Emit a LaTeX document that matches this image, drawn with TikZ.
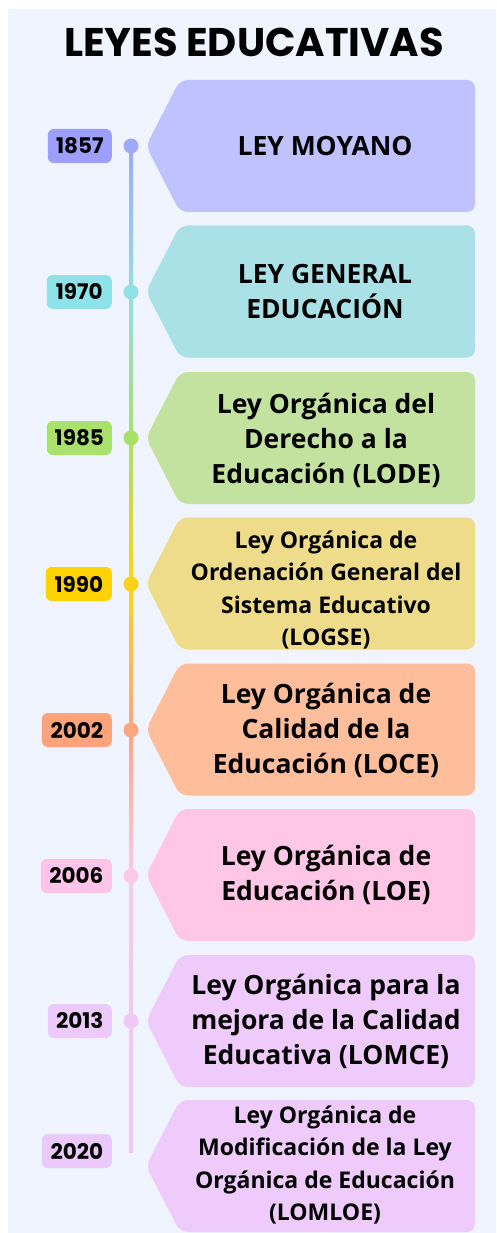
\documentclass[tikz,border=0pt]{standalone}
\usepackage{fontspec}
\setmainfont{Open Sans}
\newfontfamily\titlefont{Poppins}
\newfontfamily\yearfont{Poppins}
\usetikzlibrary{calc}
\definecolor{bg}{HTML}{F0F4FE}
\definecolor{bxa}{HTML}{BFC2FE}
\definecolor{bxb}{HTML}{A9E1E6}
\definecolor{bxc}{HTML}{C4E29F}
\definecolor{bxd}{HTML}{EFDC8A}
\definecolor{bxe}{HTML}{FFBE9B}
\definecolor{bxf}{HTML}{FFC6E6}
\definecolor{bxg}{HTML}{EFCBFC}
\definecolor{bxh}{HTML}{EFCBFC}
\definecolor{yra}{HTML}{9E9EFF}
\definecolor{yrb}{HTML}{8EE3E8}
\definecolor{yrc}{HTML}{A9E26A}
\definecolor{yrd}{HTML}{FFD200}
\definecolor{yre}{HTML}{FFA47A}
\definecolor{yrf}{HTML}{FFC5E8}
\definecolor{yrg}{HTML}{ECCAFB}
\definecolor{yrh}{HTML}{ECC9FB}
\definecolor{dta}{HTML}{A0A8F8}
\definecolor{dtb}{HTML}{90E0E6}
\definecolor{dtc}{HTML}{A8E06A}
\definecolor{dtd}{HTML}{FFD21A}
\definecolor{dte}{HTML}{FFA580}
\definecolor{dtf}{HTML}{FFC8E6}
\definecolor{dtg}{HTML}{EFC8F8}
\newcommand\lawbox[2]{\fill[#2, rounded corners=8pt] (475,#1-66) -- (180,#1-66) -- (146,#1) -- (180,#1+66) -- (475,#1+66) -- cycle;}
\tikzset{
  yearlabel/.style={fill=#1, rounded corners=6pt, anchor=east, minimum height=34pt, inner sep=0pt, font=\yearfont\bfseries\fontsize{21.5}{24}\selectfont, text=black},
  tdot/.style={circle, fill=#1, minimum size=15pt, inner sep=0pt},
  lawtext/.style={align=center, font=\bfseries\fontsize{26.5}{35}\selectfont, text=black},
  lawsmall/.style={align=center, font=\bfseries\fontsize{23}{32.5}\selectfont, text=black}
}
\begin{document}
\begin{tikzpicture}[x=1pt, y=-1pt]
\useasboundingbox (0,0) rectangle (496,1233);
\fill[bg] (8,9) rectangle (496,1233);
\node[anchor=base, font=\titlefont\bfseries\fontsize{40}{44}\selectfont] (title) at (254,57) {LEYES EDUCATIVAS};
% boxes
\lawbox{146}{bxa}
\lawbox{291.5}{bxb}
\lawbox{438}{bxc}
\lawbox{583.5}{bxd}
\lawbox{729.5}{bxe}
\lawbox{875}{bxf}
\lawbox{1021}{bxg}
\lawbox{1166}{bxh}
\node[lawtext] (t1) at (325,146) {LEY MOYANO};
\node[lawtext] (t2) at (325,292) {LEY GENERAL\\EDUCACIÓN};
\node[lawtext] (t3) at (326,440) {Ley Orgánica del\\Derecho a la\\Educación (LODE)};
\node[lawsmall] (t4) at (326,590) {Ley Orgánica de\\Ordenación General del\\Sistema Educativo\\(LOGSE)};
\node[lawtext] (t5) at (326,730) {Ley Orgánica de\\Calidad de la\\Educación (LOCE)};
\node[lawtext] (t6) at (326,875) {Ley Orgánica de\\Educación (LOE)};
\node[lawtext] (t7) at (326,1021) {Ley Orgánica para la\\mejora de la Calidad\\Educativa (LOMCE)};
\node[lawsmall] (t8) at (325,1165) {Ley Orgánica de\\Modificación de la Ley\\Orgánica de Educación\\(LOMLOE)};
% timeline
\coordinate (d1) at (131,146);
\coordinate (d2) at (131,292);
\coordinate (d3) at (131,438);
\coordinate (d4) at (131,584);
\coordinate (d5) at (131,730);
\coordinate (d6) at (131,876);
\coordinate (d7) at (131,1021);
\coordinate (lineend) at (131,1152);
\shade[top color=dta, bottom color=dtb] ([xshift=-2pt]d1) rectangle ([xshift=2pt]d2);
\shade[top color=dtb, bottom color=dtc] ([xshift=-2pt]d2) rectangle ([xshift=2pt]d3);
\shade[top color=dtc, bottom color=dtd] ([xshift=-2pt]d3) rectangle ([xshift=2pt]d4);
\shade[top color=dtd, bottom color=dte] ([xshift=-2pt]d4) rectangle ([xshift=2pt]d5);
\shade[top color=dte, bottom color=dtf] ([xshift=-2pt]d5) rectangle ([xshift=2pt]d6);
\shade[top color=dtf, bottom color=dtg] ([xshift=-2pt]d6) rectangle ([xshift=2pt]d7);
\shade[top color=dtg, bottom color=dtg] ([xshift=-2pt]d7) rectangle ([xshift=2pt]lineend);
\node[tdot=dta] (p1) at (d1) {};
\node[tdot=dtb] (p2) at (d2) {};
\node[tdot=dtc] (p3) at (d3) {};
\node[tdot=dtd] (p4) at (d4) {};
\node[tdot=dte] (p5) at (d5) {};
\node[tdot=dtf] (p6) at (d6) {};
\node[tdot=dtg] (p7) at (d7) {};
% years
\node[yearlabel=yra, minimum width=64pt] (y1) at (112,146) {1857};
\node[yearlabel=yrb, minimum width=65pt] (y2) at (112,292) {1970};
\node[yearlabel=yrc, minimum width=65pt] (y3) at (112,438) {1985};
\node[yearlabel=yrd, minimum width=66pt] (y4) at (112,584) {1990};
\node[yearlabel=yre, minimum width=70pt] (y5) at (112,730) {2002};
\node[yearlabel=yrf, minimum width=71pt] (y6) at (112,876) {2006};
\node[yearlabel=yrg, minimum width=64pt] (y7) at (112,1021) {2013};
\node[yearlabel=yrh, minimum width=70pt] (y8) at (112,1151) {2020};
\end{tikzpicture}
\end{document}
